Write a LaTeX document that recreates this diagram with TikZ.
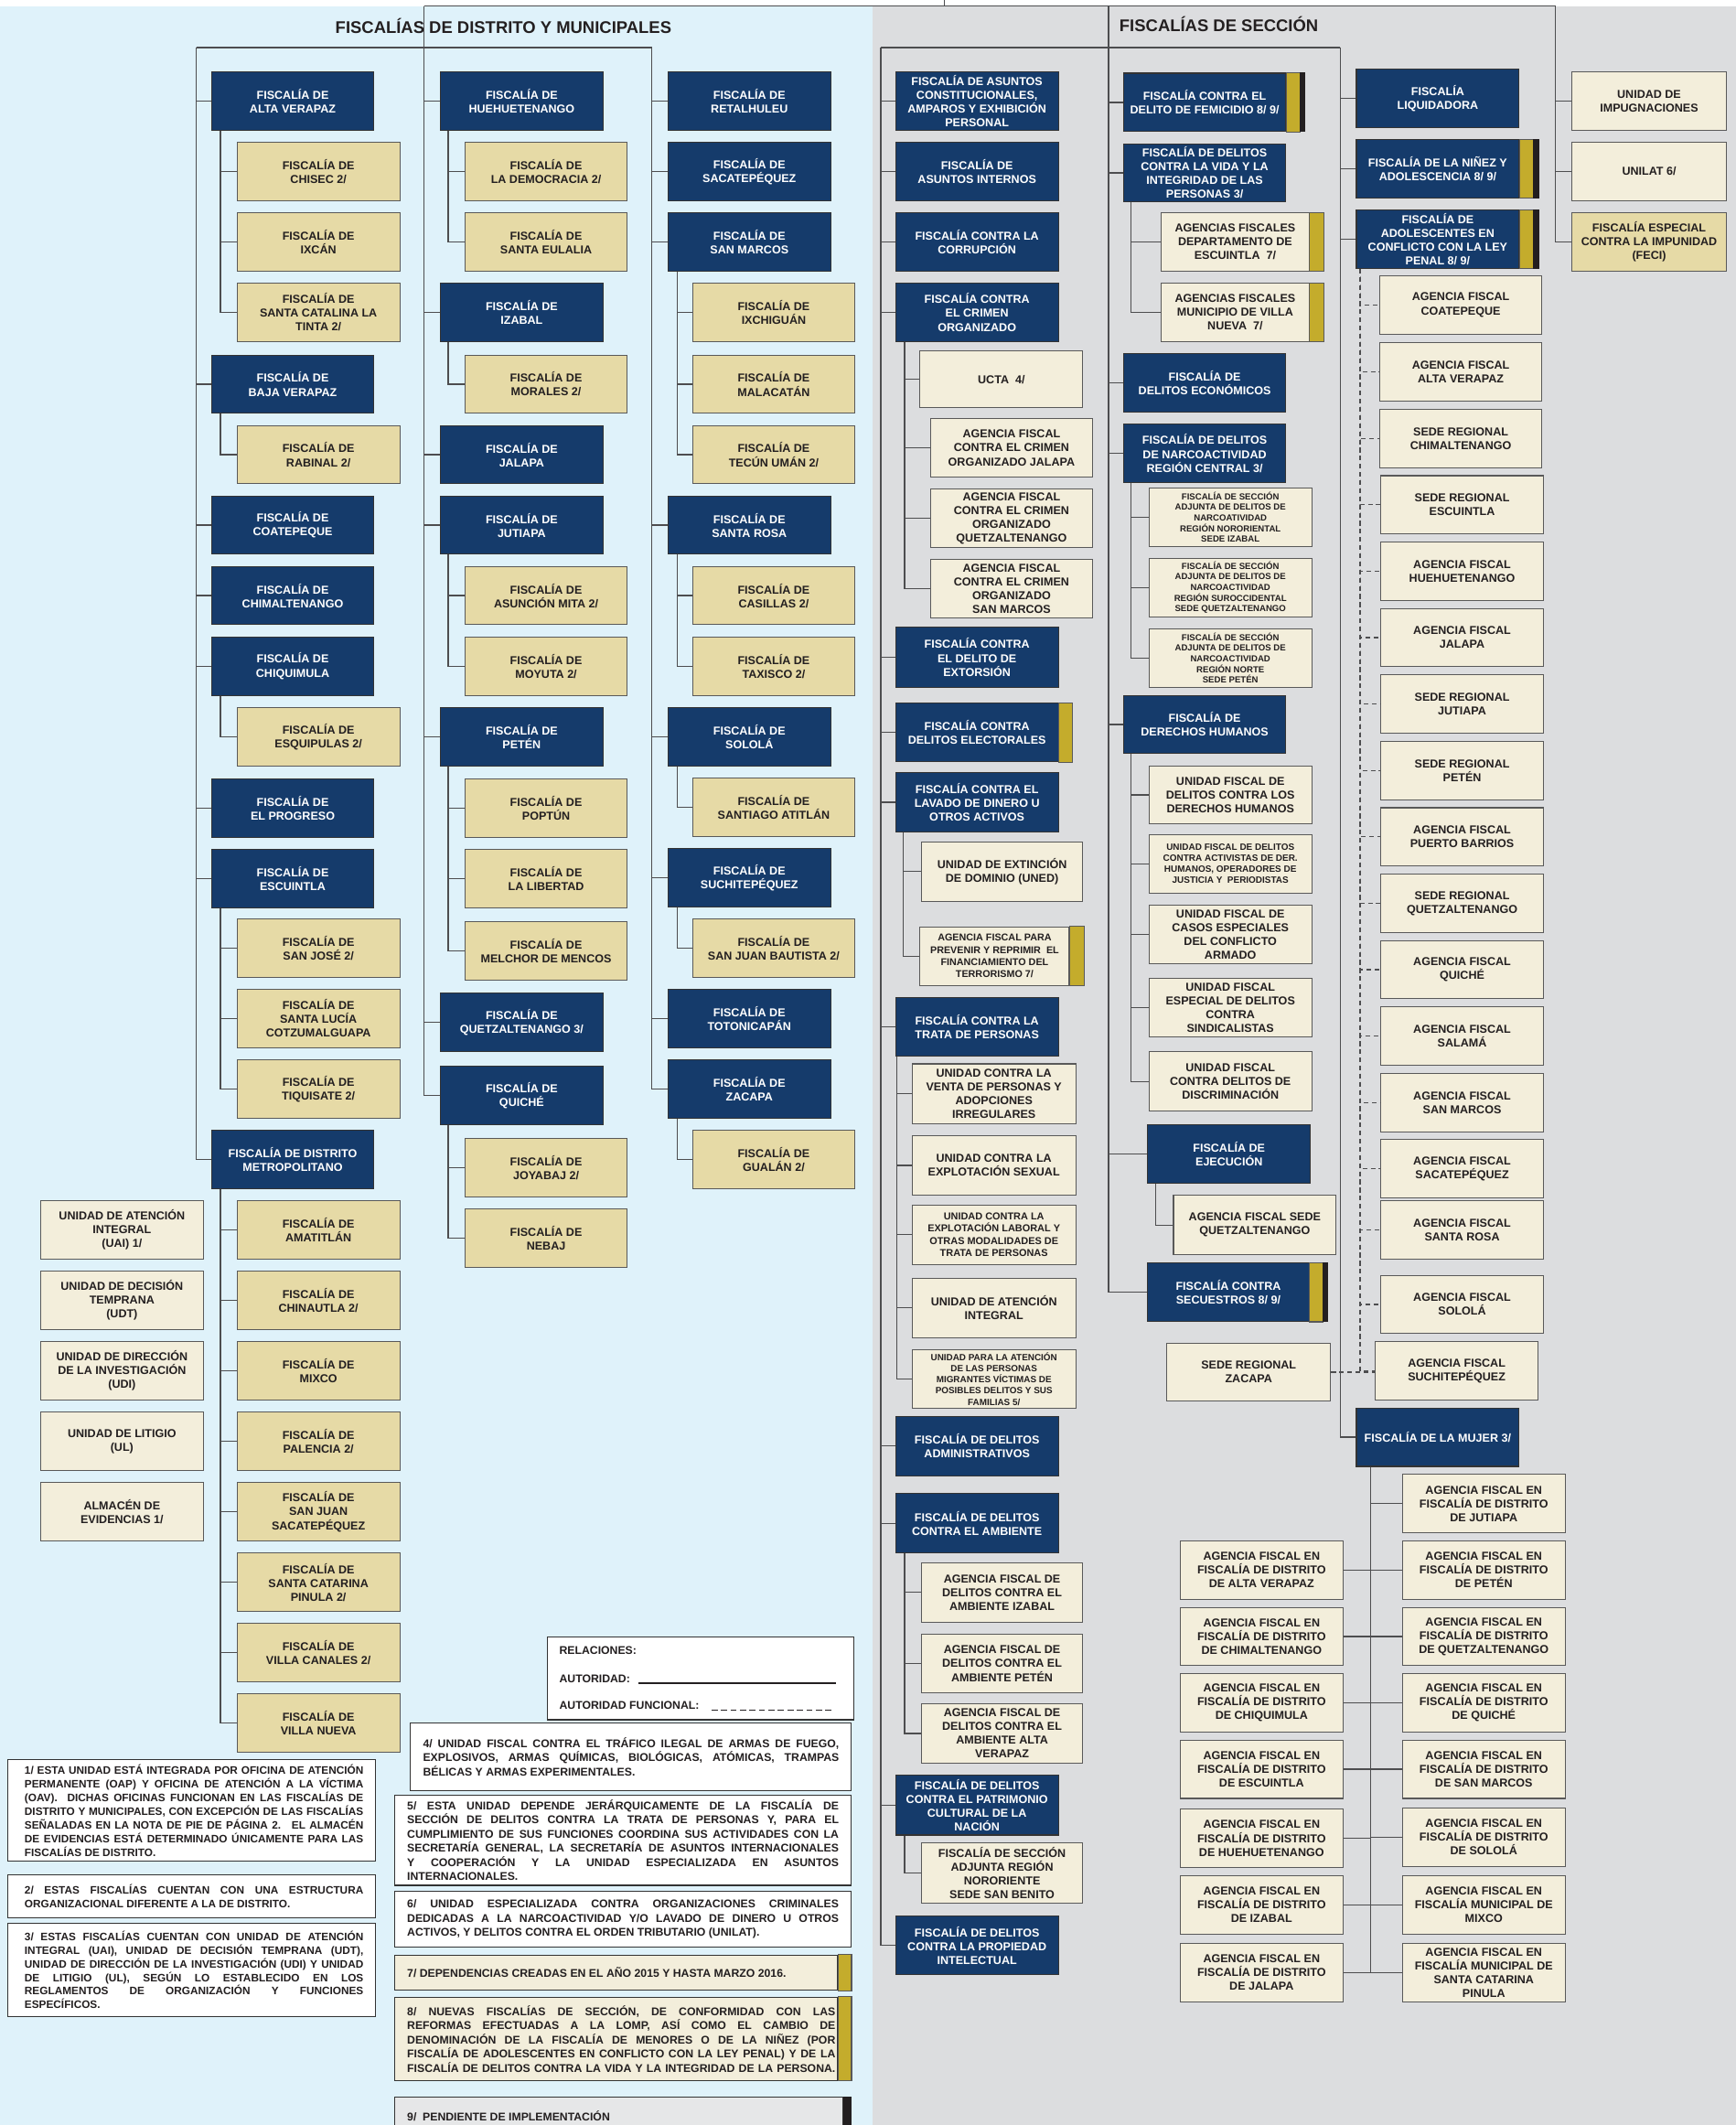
\documentclass[tikz,border=0pt]{standalone}
\usepackage{fontspec}
\setmainfont{Liberation Sans}
\definecolor{fblue}{HTML}{153B6B}
\definecolor{ftan}{HTML}{E6DAA6}
\definecolor{fcream}{HTML}{F3EEDB}
\definecolor{fgold}{HTML}{C4AC2C}
\definecolor{fdark}{HTML}{231F20}
\definecolor{bgblue}{HTML}{DFF2FA}
\definecolor{bggray}{HTML}{DCDDDF}
\definecolor{lnc}{HTML}{4D4D4F}
\definecolor{ngray}{HTML}{E6E7E8}
\tikzset{
 base/.style={rectangle, inner sep=0pt, align=center, font=\bfseries\fontsize{8.5}{10.2}\selectfont, line width=0.7bp},
 bl/.style={base, fill=fblue, draw=black!80, text=white},
 tn/.style={base, fill=ftan, draw=black!65, text=fdark},
 cr/.style={base, fill=fcream, draw=black!65, text=fdark},
 fsa/.style={font=\bfseries\fontsize{7.3}{9}\selectfont},
 fsb/.style={font=\bfseries\fontsize{7.4}{9}\selectfont},
 fsc/.style={font=\bfseries\fontsize{6.7}{8.3}\selectfont},
 fsd/.style={font=\bfseries\fontsize{6.75}{8.1}\selectfont},
 fse/.style={font=\bfseries\fontsize{6.5}{7.9}\selectfont},
 conn/.style={draw=lnc, line width=0.9bp},
 dconn/.style={draw=lnc, line width=0.8bp, dash pattern=on 3.5bp off 2.5bp},
 notebox/.style={rectangle, draw=black!80, fill=white, line width=.8bp, inner sep=0pt},
 notetext/.style={inner sep=0pt, align=left, font=\bfseries\fontsize{8}{10.1}\selectfont, text=fdark},
 notetextb/.style={inner sep=0pt, align=left, font=\bfseries\fontsize{8.3}{10.5}\selectfont, text=fdark},
 head/.style={inner sep=0pt, font=\bfseries\fontsize{12.5}{15}\selectfont, text=fdark},
}
\newcommand\bx[7]{\node[#1, minimum width={(#5-#3)*1bp}, minimum height={(#6-#4)*1bp}] (#2) at ({(#3+#5)/2},{(#4+#6)/2}) {#7};}
\newcommand\gold[2]{\path[fill=fgold, draw=black!65, line width=.7bp] (#1.north east) rectangle ([xshift=#2bp]#1.south east);}
\newcommand\goldblk[3]{\gold{#1}{#2}\path[fill=fdark] ([xshift=#2bp]#1.north east) rectangle ([xshift=#3bp]#1.south east);}
\newcommand\jl[2]{\makebox[#1][s]{#2}}
\begin{document}
\begin{tikzpicture}[x=1bp,y=-1bp]
\clip (0,0) rectangle (1281,1568);
\path[use as bounding box] (0,0) rectangle (1281,1568);
\fill[white] (0,0) rectangle (1281,4.5);
\fill[bgblue] (0,4.5) rectangle (644,1568);
\fill[bggray] (644,4.5) rectangle (1281,1568);

% headers
\node[head] (h1) at (371.5,19.5) {FISCALÍAS DE DISTRITO Y MUNICIPALES};
\node[head] (h2) at (899.5,18) {FISCALÍAS DE SECCIÓN};

% ---------- left column
\bx{bl}{lav}{156}{53}{276}{96}{FISCALÍA DE\\ALTA VERAPAZ}
\bx{tn}{lchi}{175}{105}{295}{148}{FISCALÍA DE\\CHISEC 2/}
\bx{tn}{lixc}{175}{157}{295}{200}{FISCALÍA DE\\IXCÁN}
\bx{tn}{lsct}{175}{209}{295}{252}{FISCALÍA DE\\SANTA CATALINA LA\\TINTA 2/}
\bx{bl}{lbv}{156}{262}{276}{305}{FISCALÍA DE\\BAJA VERAPAZ}
\bx{tn}{lrab}{175}{314}{295}{357}{FISCALÍA DE\\RABINAL 2/}
\bx{bl}{lcoa}{156}{366}{276}{409}{FISCALÍA DE\\COATEPEQUE}
\bx{bl}{lchm}{156}{418}{276}{461}{FISCALÍA DE\\CHIMALTENANGO}
\bx{bl}{lchq}{156}{470}{276}{513}{FISCALÍA DE\\CHIQUIMULA}
\bx{tn}{lesq}{175}{522}{295}{565}{FISCALÍA DE\\ESQUIPULAS 2/}
\bx{bl}{lprg}{156}{575}{276}{618}{FISCALÍA DE\\EL PROGRESO}
\bx{bl}{lesc}{156}{627}{276}{670}{FISCALÍA DE\\ESCUINTLA}
\bx{tn}{lsjo}{175}{678}{295}{721}{FISCALÍA DE\\SAN JOSÉ 2/}
\bx{tn}{lslc}{175}{730}{295}{773}{FISCALÍA DE\\SANTA LUCÍA\\COTZUMALGUAPA}
\bx{tn}{ltiq}{175}{782}{295}{825}{FISCALÍA DE\\TIQUISATE 2/}
\bx{bl}{lmet}{156}{834}{276}{877}{FISCALÍA DE DISTRITO\\METROPOLITANO}
\bx{tn}{lama}{175}{886}{295}{929}{FISCALÍA DE\\AMATITLÁN}
\bx{tn}{lchn}{175}{938}{295}{981}{FISCALÍA DE\\CHINAUTLA 2/}
\bx{tn}{lmix}{175}{990}{295}{1033}{FISCALÍA DE\\MIXCO}
\bx{tn}{lpal}{175}{1042}{295}{1085}{FISCALÍA DE\\PALENCIA 2/}
\bx{tn}{lsjs}{175}{1094}{295}{1137}{FISCALÍA DE\\SAN JUAN\\SACATEPÉQUEZ}
\bx{tn}{lscp}{175}{1146}{295}{1189}{FISCALÍA DE\\SANTA CATARINA\\PINULA 2/}
\bx{tn}{lvca}{175}{1198}{295}{1241}{FISCALÍA DE\\VILLA CANALES 2/}
\bx{tn}{lvnu}{175}{1250}{295}{1293}{FISCALÍA DE\\VILLA NUEVA}

\bx{cr}{uai}{30}{886}{150}{929}{UNIDAD DE ATENCIÓN\\INTEGRAL\\(UAI) 1/}
\bx{cr}{udt}{30}{938}{150}{981}{UNIDAD DE DECISIÓN\\TEMPRANA\\(UDT)}
\bx{cr}{udi}{30}{990}{150}{1033}{UNIDAD DE DIRECCIÓN\\DE LA INVESTIGACIÓN\\(UDI)}
\bx{cr}{ul}{30}{1042}{150}{1085}{UNIDAD DE LITIGIO\\(UL)}
\bx{cr}{alm}{30}{1094}{150}{1137}{ALMACÉN DE\\EVIDENCIAS 1/}

% ---------- middle column
\bx{bl}{mhue}{325}{53}{445}{96}{FISCALÍA DE\\HUEHUETENANGO}
\bx{tn}{mdem}{343}{105}{463}{148}{FISCALÍA DE\\LA DEMOCRACIA 2/}
\bx{tn}{meul}{343}{157}{463}{200}{FISCALÍA DE\\SANTA EULALIA}
\bx{bl}{miza}{325}{209}{445}{252}{FISCALÍA DE\\IZABAL}
\bx{tn}{mmor}{343}{262}{463}{305}{FISCALÍA DE\\MORALES 2/}
\bx{bl}{mjal}{325}{314}{445}{357}{FISCALÍA DE\\JALAPA}
\bx{bl}{mjut}{325}{366}{445}{409}{FISCALÍA DE\\JUTIAPA}
\bx{tn}{masu}{343}{418}{463}{461}{FISCALÍA DE\\ASUNCIÓN MITA 2/}
\bx{tn}{mmoy}{343}{470}{463}{513}{FISCALÍA DE\\MOYUTA 2/}
\bx{bl}{mpet}{325}{522}{445}{565}{FISCALÍA DE\\PETÉN}
\bx{tn}{mpop}{343}{575}{463}{618}{FISCALÍA DE\\POPTÚN}
\bx{tn}{mlib}{343}{627}{463}{670}{FISCALÍA DE\\LA LIBERTAD}
\bx{tn}{mmel}{343}{680}{463}{723}{FISCALÍA DE\\MELCHOR DE MENCOS}
\bx{bl}{mque}{325}{733}{445}{776}{FISCALÍA DE\\QUETZALTENANGO 3/}
\bx{bl}{mqui}{325}{787}{445}{830}{FISCALÍA DE\\QUICHÉ}
\bx{tn}{mjoy}{343}{840}{463}{883}{FISCALÍA DE\\JOYABAJ 2/}
\bx{tn}{mneb}{343}{892}{463}{935}{FISCALÍA DE\\NEBAJ}

% ---------- right column
\bx{bl}{rret}{493}{53}{613}{96}{FISCALÍA DE\\RETALHULEU}
\bx{bl}{rsac}{493}{105}{613}{148}{FISCALÍA DE\\SACATEPÉQUEZ}
\bx{bl}{rsma}{493}{157}{613}{200}{FISCALÍA DE\\SAN MARCOS}
\bx{tn}{rixc}{511}{209}{631}{252}{FISCALÍA DE\\IXCHIGUÁN}
\bx{tn}{rmal}{511}{262}{631}{305}{FISCALÍA DE\\MALACATÁN}
\bx{tn}{rtec}{511}{314}{631}{357}{FISCALÍA DE\\TECÚN UMÁN 2/}
\bx{bl}{rsro}{493}{366}{613}{409}{FISCALÍA DE\\SANTA ROSA}
\bx{tn}{rcas}{511}{418}{631}{461}{FISCALÍA DE\\CASILLAS 2/}
\bx{tn}{rtax}{511}{470}{631}{513}{FISCALÍA DE\\TAXISCO 2/}
\bx{bl}{rsol}{493}{522}{613}{565}{FISCALÍA DE\\SOLOLÁ}
\bx{tn}{rsat}{511}{574}{631}{617}{FISCALÍA DE\\SANTIAGO ATITLÁN}
\bx{bl}{rsuc}{493}{626}{613}{669}{FISCALÍA DE\\SUCHITEPÉQUEZ}
\bx{tn}{rsjb}{511}{678}{631}{721}{FISCALÍA DE\\SAN JUAN BAUTISTA 2/}
\bx{bl}{rtot}{493}{730}{613}{773}{FISCALÍA DE\\TOTONICAPÁN}
\bx{bl}{rzac}{493}{782}{613}{825}{FISCALÍA DE\\ZACAPA}
\bx{tn}{rgua}{511}{834}{631}{877}{FISCALÍA DE\\GUALÁN 2/}

% ---------- seccion column A
\bx{bl}{aconst}{661}{53}{781}{96}{FISCALÍA DE ASUNTOS\\CONSTITUCIONALES,\\AMPAROS Y EXHIBICIÓN\\PERSONAL}
\bx{bl}{aint}{661}{105}{781}{148}{FISCALÍA DE\\ASUNTOS INTERNOS}
\bx{bl}{acor}{661}{157}{781}{200}{FISCALÍA CONTRA LA\\CORRUPCIÓN}
\bx{bl}{acri}{661}{209}{781}{252}{FISCALÍA CONTRA\\EL CRIMEN\\ORGANIZADO}
\bx{cr}{ucta}{679}{259}{799}{301}{UCTA~~4/}
\bx{cr}{acjal}{687}{309}{806}{352}{AGENCIA FISCAL\\CONTRA EL CRIMEN\\ORGANIZADO JALAPA}
\bx{cr}{acque}{687}{361}{806}{404}{AGENCIA FISCAL\\CONTRA EL CRIMEN\\ORGANIZADO\\QUETZALTENANGO}
\bx{cr}{acsma}{687}{413}{806}{456}{AGENCIA FISCAL\\CONTRA EL CRIMEN\\ORGANIZADO\\SAN MARCOS}
\bx{bl}{aext}{661}{463}{781}{507}{FISCALÍA CONTRA\\EL DELITO DE\\EXTORSIÓN}
\bx{bl}{aele}{661}{519}{781}{562}{FISCALÍA CONTRA\\DELITOS ELECTORALES}
\gold{aele}{10}
\bx{bl}{alav}{661}{570}{781}{614}{FISCALÍA CONTRA EL\\LAVADO DE DINERO U\\OTROS ACTIVOS}
\bx{cr}{uned}{680}{621}{799}{665}{UNIDAD DE EXTINCIÓN\\DE DOMINIO (UNED)}
\bx{cr,fsa}{ater}{679}{684}{789}{727}{AGENCIA FISCAL PARA\\PREVENIR Y REPRIMIR~~EL\\FINANCIAMIENTO DEL\\TERRORISMO 7/}
\gold{ater}{11}
\bx{bl}{atra}{661}{736}{781}{779}{FISCALÍA CONTRA LA\\TRATA DE PERSONAS}
\bx{cr}{uven}{673}{785}{794}{829}{UNIDAD CONTRA LA\\VENTA DE PERSONAS Y\\ADOPCIONES\\IRREGULARES}
\bx{cr}{usex}{673}{838}{794}{882}{UNIDAD CONTRA LA\\EXPLOTACIÓN SEXUAL}
\bx{cr,fsb}{ulab}{673}{889}{794}{933}{UNIDAD CONTRA LA\\EXPLOTACIÓN LABORAL Y\\OTRAS MODALIDADES DE\\TRATA DE PERSONAS}
\bx{cr}{uain}{673}{943}{794}{987}{UNIDAD DE ATENCIÓN\\INTEGRAL}
\bx{cr,fsc}{umig}{673}{996}{794}{1039}{UNIDAD PARA LA ATENCIÓN\\DE LAS PERSONAS\\MIGRANTES VÍCTIMAS DE\\POSIBLES DELITOS Y SUS\\FAMILIAS 5/}
\bx{bl}{aadm}{661}{1045}{781}{1089}{FISCALÍA DE DELITOS\\ADMINISTRATIVOS}
\bx{bl}{aamb}{661}{1102}{781}{1146}{FISCALÍA DE DELITOS\\CONTRA EL AMBIENTE}
\bx{cr}{aaiz}{680}{1153}{799}{1197}{AGENCIA FISCAL DE\\DELITOS CONTRA EL\\AMBIENTE IZABAL}
\bx{cr}{aape}{680}{1206}{799}{1249}{AGENCIA FISCAL DE\\DELITOS CONTRA EL\\AMBIENTE PETÉN}
\bx{cr}{aaav}{680}{1257}{799}{1301}{AGENCIA FISCAL DE\\DELITOS CONTRA EL\\AMBIENTE ALTA\\VERAPAZ}
\bx{bl}{apat}{661}{1310}{781}{1354}{FISCALÍA DE DELITOS\\CONTRA EL PATRIMONIO\\CULTURAL DE LA\\NACIÓN}
\bx{cr}{asbe}{680}{1360}{799}{1404}{FISCALÍA DE SECCIÓN\\ADJUNTA REGIÓN\\NORORIENTE\\SEDE SAN BENITO}
\bx{bl}{apro}{661}{1414}{781}{1457}{FISCALÍA DE DELITOS\\CONTRA LA PROPIEDAD\\INTELECTUAL}

% ---------- seccion column B
\bx{bl}{bfem}{829}{54}{949}{97}{FISCALÍA CONTRA EL\\DELITO DE FEMICIDIO 8/ 9/}
\goldblk{bfem}{10}{14}
\bx{bl}{bvid}{829}{106}{949}{149}{FISCALÍA DE DELITOS\\CONTRA LA VIDA Y LA\\INTEGRIDAD DE LAS\\PERSONAS 3/}
\bx{cr}{besc}{857}{157}{966}{200}{AGENCIAS FISCALES\\DEPARTAMENTO DE\\ESCUINTLA~~7/}
\gold{besc}{11}
\bx{cr}{bvnu}{857}{209}{966}{252}{AGENCIAS FISCALES\\MUNICIPIO DE VILLA\\NUEVA~~7/}
\gold{bvnu}{11}
\bx{bl}{beco}{829}{261}{949}{304}{FISCALÍA DE\\DELITOS ECONÓMICOS}
\bx{bl}{bnar}{829}{313}{949}{356}{FISCALÍA DE DELITOS\\DE NARCOACTIVIDAD\\REGIÓN CENTRAL 3/}
\bx{cr,fse}{bn1}{848}{360}{968}{403}{FISCALÍA DE SECCIÓN\\ADJUNTA DE DELITOS DE\\NARCOATIVIDAD\\REGIÓN NORORIENTAL\\SEDE IZABAL}
\bx{cr,fse}{bn2}{848}{412}{968}{455}{FISCALÍA DE SECCIÓN\\ADJUNTA DE DELITOS DE\\NARCOACTIVIDAD\\REGIÓN SUROCCIDENTAL\\SEDE QUETZALTENANGO}
\bx{cr,fse}{bn3}{848}{464}{968}{507}{FISCALÍA DE SECCIÓN\\ADJUNTA DE DELITOS DE\\NARCOACTIVIDAD\\REGIÓN NORTE\\SEDE PETÉN}
\bx{bl}{bddh}{829}{513}{949}{556}{FISCALÍA DE\\DERECHOS HUMANOS}
\bx{cr}{bd1}{848}{565}{968}{608}{UNIDAD FISCAL DE\\DELITOS CONTRA LOS\\DERECHOS HUMANOS}
\bx{cr,fsd}{bd2}{848}{616}{968}{659}{UNIDAD FISCAL DE DELITOS\\CONTRA ACTIVISTAS DE DER.\\HUMANOS, OPERADORES DE\\JUSTICIA Y~~PERIODISTAS}
\bx{cr}{bd3}{848}{668}{968}{711}{UNIDAD FISCAL DE\\CASOS ESPECIALES\\DEL CONFLICTO\\ARMADO}
\bx{cr}{bd4}{848}{722}{968}{765}{UNIDAD FISCAL\\ESPECIAL DE DELITOS\\CONTRA\\SINDICALISTAS}
\bx{cr}{bd5}{848}{776}{968}{820}{UNIDAD FISCAL\\CONTRA DELITOS DE\\DISCRIMINACIÓN}
\bx{bl}{beje}{847}{830}{967}{873}{FISCALÍA DE\\EJECUCIÓN}
\bx{cr}{bqtz}{866}{882}{986}{926}{AGENCIA FISCAL SEDE\\QUETZALTENANGO}
\bx{bl}{bsec}{847}{932}{966}{975}{FISCALÍA CONTRA\\SECUESTROS 8/ 9/}
\goldblk{bsec}{10}{14}
\bx{cr}{bzac}{861}{991}{982}{1034}{SEDE REGIONAL\\ZACAPA}

% ---------- seccion column C
\bx{bl}{cliq}{1001}{51}{1121}{94}{FISCALÍA\\LIQUIDADORA}
\bx{bl}{cnin}{1001}{103}{1121}{146}{FISCALÍA DE LA NIÑEZ Y\\ADOLESCENCIA 8/ 9/}
\goldblk{cnin}{10}{14.5}
\bx{bl}{cado}{1001}{155}{1121}{198}{FISCALÍA DE\\ADOLESCENTES EN\\CONFLICTO CON LA LEY\\PENAL 8/ 9/}
\goldblk{cado}{10}{14.5}
\bx{cr}{cg1}{1018}{203.5}{1138}{246.5}{AGENCIA FISCAL\\COATEPEQUE}
\bx{cr}{cg2}{1018}{253}{1138}{296}{AGENCIA FISCAL\\ALTA VERAPAZ}
\bx{cr}{cg3}{1018}{302}{1138}{345}{SEDE REGIONAL\\CHIMALTENANGO}
\bx{cr}{cg4}{1019}{351}{1139}{394}{SEDE REGIONAL\\ESCUINTLA}
\bx{cr}{cg5}{1019}{400}{1139}{443}{AGENCIA FISCAL\\HUEHUETENANGO}
\bx{cr}{cg6}{1019}{449}{1139}{492}{AGENCIA FISCAL\\JALAPA}
\bx{cr}{cg7}{1019}{498}{1139}{541}{SEDE REGIONAL\\JUTIAPA}
\bx{cr}{cg8}{1019}{547}{1139}{590}{SEDE REGIONAL\\PETÉN}
\bx{cr}{cg9}{1019}{596}{1139}{639}{AGENCIA FISCAL\\PUERTO BARRIOS}
\bx{cr}{cg10}{1019}{645}{1139}{688}{SEDE REGIONAL\\QUETZALTENANGO}
\bx{cr}{cg11}{1019}{694}{1139}{737}{AGENCIA FISCAL\\QUICHÉ}
\bx{cr}{cg12}{1019}{743}{1139}{786}{AGENCIA FISCAL\\SALAMÁ}
\bx{cr}{cg13}{1019}{792}{1139}{835}{AGENCIA FISCAL\\SAN MARCOS}
\bx{cr}{cg14}{1019}{841}{1139}{884}{AGENCIA FISCAL\\SACATEPÉQUEZ}
\bx{cr}{cg15}{1019}{886}{1139}{929}{AGENCIA FISCAL\\SANTA ROSA}
\bx{cr}{cg16}{1019}{941}{1139}{984}{AGENCIA FISCAL\\SOLOLÁ}
\bx{cr}{cg17}{1015}{990}{1135}{1033}{AGENCIA FISCAL\\SUCHITEPÉQUEZ}
\bx{bl}{cmuj}{1001}{1039}{1121}{1082}{FISCALÍA DE LA MUJER 3/}
\bx{cr}{mj1}{1035}{1088}{1155}{1131}{AGENCIA FISCAL EN\\FISCALÍA DE DISTRITO\\DE JUTIAPA}
\bx{cr}{mj2}{1035}{1137}{1155}{1180}{AGENCIA FISCAL EN\\FISCALÍA DE DISTRITO\\DE PETÉN}
\bx{cr}{mj3}{1035}{1186}{1155}{1229}{AGENCIA FISCAL EN\\FISCALÍA DE DISTRITO\\DE QUETZALTENANGO}
\bx{cr}{mj4}{1035}{1235}{1155}{1278}{AGENCIA FISCAL EN\\FISCALÍA DE DISTRITO\\DE QUICHÉ}
\bx{cr}{mj5}{1035}{1284}{1155}{1327}{AGENCIA FISCAL EN\\FISCALÍA DE DISTRITO\\DE SAN MARCOS}
\bx{cr}{mj6}{1035}{1334}{1155}{1377}{AGENCIA FISCAL EN\\FISCALÍA DE DISTRITO\\DE SOLOLÁ}
\bx{cr}{mj7}{1035}{1384}{1155}{1427}{AGENCIA FISCAL EN\\FISCALÍA MUNICIPAL DE\\MIXCO}
\bx{cr}{mj8}{1035}{1434}{1155}{1477}{AGENCIA FISCAL EN\\FISCALÍA MUNICIPAL DE\\SANTA CATARINA\\PINULA}
\bx{cr}{ml1}{871}{1137}{991}{1180}{AGENCIA FISCAL EN\\FISCALÍA DE DISTRITO\\DE ALTA VERAPAZ}
\bx{cr}{ml2}{871}{1186}{991}{1229}{AGENCIA FISCAL EN\\FISCALÍA DE DISTRITO\\DE CHIMALTENANGO}
\bx{cr}{ml3}{871}{1235}{991}{1278}{AGENCIA FISCAL EN\\FISCALÍA DE DISTRITO\\DE CHIQUIMULA}
\bx{cr}{ml4}{871}{1284}{991}{1327}{AGENCIA FISCAL EN\\FISCALÍA DE DISTRITO\\DE ESCUINTLA}
\bx{cr}{ml5}{871}{1335}{991}{1378}{AGENCIA FISCAL EN\\FISCALÍA DE DISTRITO\\DE HUEHUETENANGO}
\bx{cr}{ml6}{871}{1384}{991}{1427}{AGENCIA FISCAL EN\\FISCALÍA DE DISTRITO\\DE IZABAL}
\bx{cr}{ml7}{871}{1434}{991}{1477}{AGENCIA FISCAL EN\\FISCALÍA DE DISTRITO\\DE JALAPA}

% ---------- column D
\bx{cr}{dimp}{1160}{53}{1274}{96}{UNIDAD DE\\IMPUGNACIONES}
\bx{cr}{dunl}{1160}{105}{1274}{148}{UNILAT 6/}
\bx{tn}{dfec}{1160}{157}{1274}{200}{FISCALÍA ESPECIAL\\CONTRA LA IMPUNIDAD\\(FECI)}

% ---------- connectors
\coordinate (T0) at (697,0);
\coordinate (T1) at (697,4.5);
\coordinate (TL) at (313,4.5);
\coordinate (TR) at (1148,4.5);
\coordinate (TB) at (818,4.5);
\coordinate (LA) at (145,35);
\coordinate (RA) at (481,35);
\coordinate (SA) at (650,35);
\coordinate (SC) at (989,35);
\draw[conn] (T0) -- (T1);
\draw[conn] (TL) -- (TR);
\draw[conn] (LA) -- (RA);
\draw[conn] (SA) -- (SC);
\foreach \n in {lav,lbv,lcoa,lchm,lchq,lprg,lesc,lmet} \draw[conn] (LA) |- (\n.west);
\foreach \n in {mhue,miza,mjal,mjut,mpet,mque,mqui} \draw[conn] (TL) |- (\n.west);
\foreach \n in {rret,rsac,rsma,rsro,rsol,rsuc,rtot,rzac} \draw[conn] (RA) |- (\n.west);
\foreach \n in {aconst,aint,acor,acri,aext,aele,alav,atra,aadm,aamb,apat,apro} \draw[conn] (SA) |- (\n.west);
\foreach \n in {bfem,bvid,beco,bnar,bddh,beje,bsec} \draw[conn] (TB) |- (\n.west);
\foreach \n in {cliq,cnin,cado,cmuj} \draw[conn] (SC) |- (\n.west);
\foreach \n in {dimp,dunl,dfec} \draw[conn] (TR) |- (\n.west);
% children
\foreach \n in {lchi,lixc,lsct} \draw[conn] ([xshift=7bp]lav.south west) |- (\n.west);
\draw[conn] ([xshift=7bp]lbv.south west) |- (lrab.west);
\draw[conn] ([xshift=7bp]lchq.south west) |- (lesq.west);
\foreach \n in {lsjo,lslc,ltiq} \draw[conn] ([xshift=7bp]lesc.south west) |- (\n.west);
\foreach \n in {lama,lchn,lmix,lpal,lsjs,lscp,lvca,lvnu} \draw[conn] ([xshift=7bp]lmet.south west) |- (\n.west);
\foreach \n in {mdem,meul} \draw[conn] ([xshift=6bp]mhue.south west) |- (\n.west);
\draw[conn] ([xshift=6bp]miza.south west) |- (mmor.west);
\foreach \n in {masu,mmoy} \draw[conn] ([xshift=6bp]mjut.south west) |- (\n.west);
\foreach \n in {mpop,mlib,mmel} \draw[conn] ([xshift=6bp]mpet.south west) |- (\n.west);
\foreach \n in {mjoy,mneb} \draw[conn] ([xshift=6bp]mqui.south west) |- (\n.west);
\foreach \n in {rixc,rmal,rtec} \draw[conn] ([xshift=7bp]rsma.south west) |- (\n.west);
\foreach \n in {rcas,rtax} \draw[conn] ([xshift=7bp]rsro.south west) |- (\n.west);
\draw[conn] ([xshift=7bp]rsol.south west) |- (rsat.west);
\draw[conn] ([xshift=7bp]rsuc.south west) |- (rsjb.west);
\draw[conn] ([xshift=7bp]rzac.south west) |- (rgua.west);
\foreach \n in {ucta,acjal,acque,acsma} \draw[conn] ([xshift=7bp]acri.south west) |- (\n.west);
\foreach \n in {uned,ater} \draw[conn] ([xshift=6bp]alav.south west) |- (\n.west);
\foreach \n in {uven,usex,ulab,uain,umig} \draw[conn] ([xshift=1bp]atra.south west) |- (\n.west);
\foreach \n in {aaiz,aape,aaav} \draw[conn] ([xshift=7bp]aamb.south west) |- (\n.west);
\draw[conn] ([xshift=7bp]apat.south west) |- (asbe.west);
\foreach \n in {besc,bvnu} \draw[conn] ([xshift=6bp]bvid.south west) |- (\n.west);
\foreach \n in {bn1,bn2,bn3} \draw[conn] ([xshift=6bp]bnar.south west) |- (\n.west);
\foreach \n in {bd1,bd2,bd3,bd4,bd5} \draw[conn] ([xshift=6bp]bddh.south west) |- (\n.west);
\draw[conn] ([xshift=6bp]beje.south west) |- (bqtz.west);
\foreach \n in {cg1,cg2,cg3,cg4,cg5,cg6,cg7,cg8,cg9,cg10,cg11,cg12,cg13,cg14,cg15,cg16,cg17} \draw[dconn] ([xshift=3bp]cado.south west) |- (\n.west);
\draw[dconn] (bzac.east) -- (bzac.east -| cg17.west);
\foreach \n in {mj1,mj2,mj3,mj4,mj5,mj6,mj7,mj8} \draw[conn] ([xshift=11bp]cmuj.south west) |- (\n.west);
\foreach \n in {ml1,ml2,ml3,ml4,ml5,ml6,ml7} \draw[conn] ([xshift=11bp]cmuj.south west) |- (\n.east);

% ---------- legend and notes
\node[notebox, minimum width=226bp, minimum height=61bp] (rel) at (517,1238.5) {};
\node[notetext, anchor=west, font=\bfseries\fontsize{8.3}{10}\selectfont] (relt) at (412.6,1218) {RELACIONES:};
\node[notetext, anchor=west, font=\bfseries\fontsize{8.3}{10}\selectfont] (relau) at (412.6,1238.5) {AUTORIDAD:};
\node[notetext, anchor=west, font=\bfseries\fontsize{8.3}{10}\selectfont] (relaf) at (412.6,1258.5) {AUTORIDAD FUNCIONAL:};
\coordinate (sl1) at (471,1242);
\coordinate (sl2) at (617,1242);
\coordinate (dl1) at (525,1262);
\coordinate (dl2) at (616,1262);
\draw[draw=fdark, line width=.8bp] (sl1) -- (sl2);
\draw[draw=fdark, line width=.8bp, dash pattern=on 4.6bp off 2.4bp] (dl1) -- (dl2);

\node[notebox, minimum width=271.4bp, minimum height=75bp] (n1) at (141.3,1336) {};
\node[notetext, anchor=west] (n1t) at (18,1336) {\jl{250bp}{1/ ESTA UNIDAD ESTÁ INTEGRADA POR OFICINA DE ATENCIÓN}\\\jl{250bp}{PERMANENTE (OAP) Y OFICINA DE ATENCIÓN A LA VÍCTIMA}\\\jl{250bp}{(OAV).~ DICHAS OFICINAS FUNCIONAN EN LAS FISCALÍAS DE}\\\jl{250bp}{DISTRITO Y MUNICIPALES, CON EXCEPCIÓN DE LAS FISCALÍAS}\\\jl{250bp}{SEÑALADAS EN LA NOTA DE PIE DE PÁGINA 2.~ EL ALMACÉN}\\\jl{250bp}{DE EVIDENCIAS ESTÁ DETERMINADO ÚNICAMENTE PARA LAS}\\FISCALÍAS DE DISTRITO.};
\node[notebox, minimum width=271.4bp, minimum height=31.5bp] (n2) at (141.3,1399.25) {};
\node[notetext, anchor=west] (n2t) at (18,1399.25) {\jl{250bp}{2/ ESTAS FISCALÍAS CUENTAN CON UNA ESTRUCTURA}\\ORGANIZACIONAL DIFERENTE A LA DE DISTRITO.};
\node[notebox, minimum width=271.4bp, minimum height=69bp] (n3) at (141.3,1453.5) {};
\node[notetext, anchor=west] (n3t) at (18,1453.5) {\jl{250bp}{3/ ESTAS FISCALÍAS CUENTAN CON UNIDAD DE ATENCIÓN}\\\jl{250bp}{INTEGRAL (UAI), UNIDAD DE DECISIÓN TEMPRANA (UDT),}\\\jl{250bp}{UNIDAD DE DIRECCIÓN DE LA INVESTIGACIÓN (UDI) Y UNIDAD}\\\jl{250bp}{DE LITIGIO (UL), SEGÚN LO ESTABLECIDO EN LOS}\\\jl{250bp}{REGLAMENTOS DE ORGANIZACIÓN Y FUNCIONES}\\ESPECÍFICOS.};

\node[notebox, minimum width=325bp, minimum height=49.6bp] (n4) at (465.5,1296.2) {};
\node[notetextb, anchor=west] (n4t) at (312,1296.2) {\jl{307bp}{4/ UNIDAD FISCAL CONTRA EL TRÁFICO ILEGAL DE ARMAS DE FUEGO,}\\\jl{307bp}{EXPLOSIVOS, ARMAS QUÍMICAS, BIOLÓGICAS, ATÓMICAS, TRAMPAS}\\BÉLICAS Y ARMAS EXPERIMENTALES.};
\node[notebox, minimum width=336.5bp, minimum height=66.6bp] (n5) at (459.75,1357.8) {};
\node[notetextb, anchor=west] (n5t) at (300.3,1357.8) {\jl{318.5bp}{5/ ESTA UNIDAD DEPENDE JERÁRQUICAMENTE DE LA FISCALÍA DE}\\\jl{318.5bp}{SECCIÓN DE DELITOS CONTRA LA TRATA DE PERSONAS Y, PARA EL}\\\jl{318.5bp}{CUMPLIMIENTO DE SUS FUNCIONES COORDINA SUS ACTIVIDADES CON LA}\\\jl{318.5bp}{SECRETARÍA GENERAL, LA SECRETARÍA DE ASUNTOS INTERNACIONALES}\\\jl{318.5bp}{Y COOPERACIÓN Y LA UNIDAD ESPECIALIZADA EN ASUNTOS}\\INTERNACIONALES.};
\node[notebox, minimum width=336.5bp, minimum height=41.1bp] (n6) at (459.75,1416.3) {};
\node[notetextb, anchor=west] (n6t) at (300.3,1416.3) {\jl{318.5bp}{6/ UNIDAD ESPECIALIZADA CONTRA ORGANIZACIONES CRIMINALES}\\\jl{318.5bp}{DEDICADAS A LA NARCOACTIVIDAD Y/O LAVADO DE DINERO U OTROS}\\ACTIVOS, Y DELITOS CONTRA EL ORDEN TRIBUTARIO (UNILAT).};
\node[notebox, fill=fcream, minimum width=326.5bp, minimum height=25.9bp] (n7) at (454.75,1455.5) {};
\gold{n7}{10}
\node[notetextb, anchor=west] (n7t) at (300.3,1455.5) {7/ DEPENDENCIAS CREADAS EN EL AÑO 2015 Y HASTA MARZO 2016.};
\node[notebox, fill=fcream, minimum width=326.5bp, minimum height=61.4bp] (n8) at (454.75,1504.3) {};
\gold{n8}{10}
\node[notetextb, anchor=west] (n8t) at (300.3,1504.3) {\jl{316bp}{8/ NUEVAS FISCALÍAS DE SECCIÓN, DE CONFORMIDAD CON LAS}\\\jl{316bp}{REFORMAS EFECTUADAS A LA LOMP, ASÍ COMO EL CAMBIO DE}\\\jl{316bp}{DENOMINACIÓN DE LA FISCALÍA DE MENORES O DE LA NIÑEZ (POR}\\\jl{316bp}{FISCALÍA DE ADOLESCENTES EN CONFLICTO CON LA LEY PENAL) Y DE LA}\\\jl{316bp}{FISCALÍA DE DELITOS CONTRA LA VIDA Y LA INTEGRIDAD DE LA PERSONA.}};
\node[notebox, fill=ngray, minimum width=330.5bp, minimum height=40bp] (n9) at (456.75,1567.2) {};
\path[fill=fdark] (n9.north east) rectangle ([xshift=6bp]n9.south east);
\node[notetextb, anchor=west] (n9t) at (300.3,1561.5) {9/~~PENDIENTE DE IMPLEMENTACIÓN};
\end{tikzpicture}
\end{document}
